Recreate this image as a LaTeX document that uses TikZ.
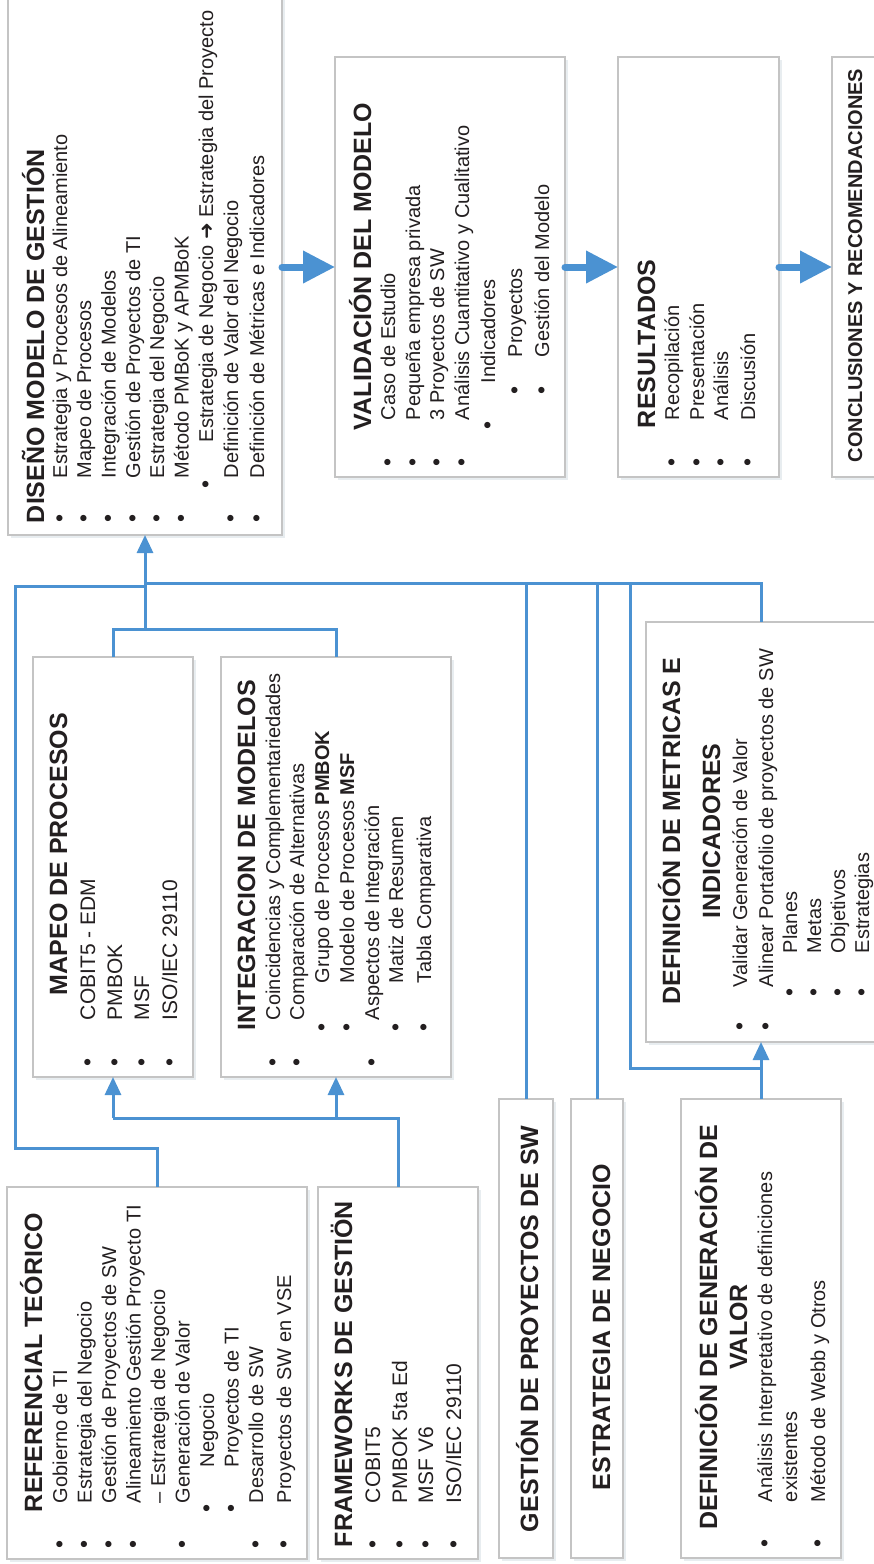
\documentclass[tikz,border=0pt]{standalone}
\usepackage{fontspec}
\setmainfont{Liberation Sans}
\newfontfamily\symfont{DejaVu Sans}
\usetikzlibrary{arrows.meta,shadows}

\definecolor{linkblue}{RGB}{75,146,210}
\definecolor{framegray}{RGB}{196,196,196}
\definecolor{inkdark}{RGB}{35,31,32}

% heading line: name, baseline x, start y, text
\newcommand\ttl[4]{\node[hd, anchor=base west] (#1) at (#2,#3) {#4};}
% centred heading line: name, baseline x, centre y, text
\newcommand\ttc[4]{\node[hd, anchor=base] (#1) at (#2,#3) {#4};}
% bulleted line: [style] name, baseline x, bullet y, text y, text
\newcommand\itm[6][bd]{\node[bul] (#2b) at (#3,#4) {\textbullet};\node[#1, anchor=base west] (#2) at (#3,#5) {#6};}
% continuation line without bullet: [style] name, baseline x, text y, text
\newcommand\cont[5][bd]{\node[#1, anchor=base west] (#2) at (#3,#4) {#5};}

\tikzset{
  box/.style={draw=framegray, line width=2pt, fill=white, inner sep=0pt, outer sep=0pt,
    drop shadow={shadow xshift=2.5pt, shadow yshift=-2.5pt, opacity=0.15, fill=linkblue!40!gray}},
  txt/.style={rotate=90, inner sep=0pt, outer sep=0pt, text=inkdark},
  hd/.style={txt, font=\fontsize{25}{30}\selectfont\bfseries},
  hds/.style={txt, font=\fontsize{20}{24}\selectfont\bfseries},
  bd/.style={txt, font=\fontsize{20}{24}\selectfont},
  bdl/.style={txt, font=\fontsize{21}{25}\selectfont},
  bul/.style={txt, anchor=base, font=\fontsize{23}{26}\selectfont},
  conn/.style={draw=linkblue, line width=3pt},
  arrowin/.style={conn, -{Triangle[length=18pt,width=16pt]}},
  bigarrow/.style={draw=linkblue, line width=7pt, line cap=round,
    -{Triangle[length=32pt,width=31pt]}},
}

\begin{document}
\begin{tikzpicture}[x=1pt, y=-1pt]
\useasboundingbox (0,0) rectangle (874,1564);
\clip (0,0) rectangle (874,1564);
\fill[white] (0,0) rectangle (874,1564);

% ---------- boxes ----------
\node[box, minimum width=274pt, minimum height=540pt] (dis) at (145,265) {};
\node[box, minimum width=230pt, minimum height=420pt] (val) at (450,267) {};
\node[box, minimum width=161pt, minimum height=420pt] (res) at (698.5,267) {};
\node[box, minimum width=52pt,  minimum height=420pt] (con) at (858,267) {};
\node[box, minimum width=160pt, minimum height=420pt] (map) at (113,867) {};
\node[box, minimum width=230pt, minimum height=420pt] (integ) at (336,867) {};
\node[box, minimum width=254pt, minimum height=420pt] (met) at (773,832) {};
\node[box, minimum width=300pt, minimum height=372pt] (ref) at (157,1373) {};
\node[box, minimum width=160pt, minimum height=372pt] (fw) at (398,1373) {};
\node[box, minimum width=54pt,  minimum height=459pt] (ges) at (526,1328.5) {};
\node[box, minimum width=52pt,  minimum height=459pt] (est) at (597,1328.5) {};
\node[box, minimum width=160pt, minimum height=459pt] (gen) at (761,1328.5) {};

% ---------- connectors ----------
\coordinate (bus) at (145,583);
\coordinate (mb) at (145,629);
\coordinate (lb) at (15,586);
\coordinate (lr) at (15,1148);
\coordinate (fb) at (113,1118);
\coordinate (lk) at (630,1068);

\draw[conn] (map.north) -- (map.north |- mb) -- (integ.north |- mb) -- (integ.north);
\draw[arrowin] (mb) -- (dis.south);
\draw[conn] (bus) -- (gen.north |- bus) -- (gen.north |- met.north);
\draw[conn] (ges.north) -- (ges.north |- bus);
\draw[conn] (est.north) -- (est.north |- bus);
\draw[conn] (lk |- bus) -- (lk) -- (gen.north |- lk);
\draw[arrowin] (gen.north) -- (gen.north |- met.south);
\draw[conn] (ref.north) -- (ref.north |- lr) -- (lr) -- (lb) -- (bus |- lb);
\draw[conn] (fw.north) -- (fw.north |- fb) -- (map.south |- fb);
\draw[arrowin] (map.south |- fb) -- (map.south);
\draw[arrowin] (integ.south |- fb) -- (integ.south);

\draw[bigarrow] (dis.east |- val.west) -- (val.west);
\draw[bigarrow] (val.east) -- (res.west);
\draw[bigarrow] (res.east) -- (con.west);

% ---------- DISEÑO MODELO DE GESTIÓN ----------
\ttl{disT}{44}{523}{DISEÑO MODELO DE GESTIÓN}
\itm{d1}{67}{518}{478}{Estrategia y Procesos de Alineamiento}
\itm{d2}{91}{518}{478}{Mapeo de Procesos}
\itm{d3}{115.5}{518}{478}{Integración de Modelos}
\itm{d4}{140}{518}{478}{Gestión de Proyectos de TI}
\itm{d5}{164}{518}{478}{Estrategia del Negocio}
\itm{d6}{188.5}{518}{478}{Método PMBoK y APMBoK}
\itm{d7}{213}{484}{442}{Estrategia de Negocio {\symfont ➜} Estrategia del Proyecto}
\itm{d8}{238}{518}{478}{Definición de Valor del Negocio}
\itm{d9}{264}{518}{478}{Definición de Métricas e Indicadores}

% ---------- VALIDACIÓN DEL MODELO ----------
\ttl{valT}{371}{430}{VALIDACIÓN DEL MODELO}
\itm{v1}{395}{462}{420}{Caso de Estudio}
\itm{v2}{420}{462}{420}{Pequeña empresa privada}
\itm{v3}{444}{462}{420}{3 Proyectos de SW}
\itm{v4}{469}{462}{420}{Análisis Cuantitativo y Cualitativo}
\itm{v5}{495}{425}{383}{Indicadores}
\itm{v6}{522}{390}{357}{Proyectos}
\itm{v7}{549}{390}{357}{Gestión del Modelo}

% ---------- RESULTADOS ----------
\ttl{resT}{655}{428}{RESULTADOS}
\itm{r1}{679}{462}{420}{Recopilación}
\itm{r2}{704}{462}{420}{Presentación}
\itm{r3}{728}{462}{420}{Análisis}
\itm{r4}{755}{462}{420}{Discusión}

% ---------- CONCLUSIONES ----------
\node[hds, anchor=base west] (conT) at (862,462) {CONCLUSIONES Y RECOMENDACIONES};

% ---------- MAPEO DE PROCESOS ----------
\ttl{mapT}{67}{995}{MAPEO DE PROCESOS}
\itm[bdl]{m1}{95}{1062}{1020}{COBIT5 - EDM}
\itm[bdl]{m2}{122}{1062}{1020}{PMBOK}
\itm[bdl]{m3}{149}{1062}{1020}{MSF}
\itm[bdl]{m4}{177}{1062}{1020}{ISO/IEC 29110}

% ---------- INTEGRACION DE MODELOS ----------
\ttl{intT}{255}{1030}{INTEGRACION DE MODELOS}
\itm{i1}{280}{1062}{1020}{Coincidencias y Complementariedades}
\itm{i2}{304}{1062}{1020}{Comparación de Alternativas}
\itm{i3}{329}{1027}{983}{Grupo de Procesos \textbf{PMBOK}}
\itm{i4}{354}{1027}{983}{Modelo de Procesos \textbf{MSF}}
\itm{i5}{379}{1062}{1020}{Aspectos de Integración}
\itm{i6}{403}{1027}{983}{Matiz de Resumen}
\itm{i7}{431}{1027}{983}{Tabla Comparativa}

% ---------- DEFINICIÓN DE METRICAS E INDICADORES ----------
\ttc{metT}{680}{831}{DEFINICIÓN DE METRICAS E}
\ttc{metU}{720}{831}{INDICADORES}
\itm{e1}{747}{1026}{987}{Validar Generación de Valor}
\itm{e2}{773}{1026}{987}{Alinear Portafolio de proyectos de SW}
\itm{e3}{797}{992}{953}{Planes}
\itm{e4}{821}{992}{953}{Metas}
\itm{e5}{845}{992}{953}{Objetivos}
\itm{e6}{869}{992}{953}{Estrategias}

% ---------- REFERENCIAL TEÓRICO ----------
\ttl{refT}{42}{1512}{REFERENCIAL TEÓRICO}
\itm{f1}{67}{1544}{1503}{Gobierno de TI}
\itm{f2}{91.5}{1544}{1503}{Estrategia del Negocio}
\itm{f3}{116}{1544}{1503}{Gestión de Proyectos de SW}
\itm{f4}{140.5}{1544}{1503}{Alineamiento Gestión Proyecto TI}
\cont{f4c}{165}{1503}{– Estrategia de Negocio}
\itm{f5}{189.5}{1544}{1503}{Generación de Valor}
\itm{f6}{214}{1508}{1467}{Negocio}
\itm{f7}{238.5}{1508}{1467}{Proyectos de TI}
\itm{f8}{263}{1544}{1503}{Desarrollo de SW}
\itm{f9}{291}{1544}{1503}{Proyectos de SW en VSE}

% ---------- FRAMEWORKS DE GESTIÖN ----------
\ttl{fwT}{352}{1547}{FRAMEWORKS DE GESTIÖN}
\itm[bdl]{w1}{380}{1544}{1503}{COBIT5}
\itm[bdl]{w2}{407}{1544}{1503}{PMBOK 5ta Ed}
\itm[bdl]{w3}{433}{1544}{1503}{MSF V6}
\itm[bdl]{w4}{461}{1544}{1503}{ISO/IEC 29110}

% ---------- single-title boxes ----------
\ttl{gesT}{538}{1532}{GESTIÓN DE PROYECTOS DE SW}
\ttl{estT}{610}{1490}{ESTRATEGIA DE NEGOCIO}

% ---------- DEFINICIÓN DE GENERACIÓN DE VALOR ----------
\ttc{genT}{717}{1327}{DEFINICIÓN DE GENERACIÓN DE}
\ttc{genU}{747}{1327}{VALOR}
\itm{g1}{772}{1543}{1502}{Análisis Interpretativo de definiciones}
\cont{g1c}{797}{1502}{existentes}
\itm{g2}{825}{1543}{1502}{Método de Webb y Otros}
\end{tikzpicture}
\end{document}
